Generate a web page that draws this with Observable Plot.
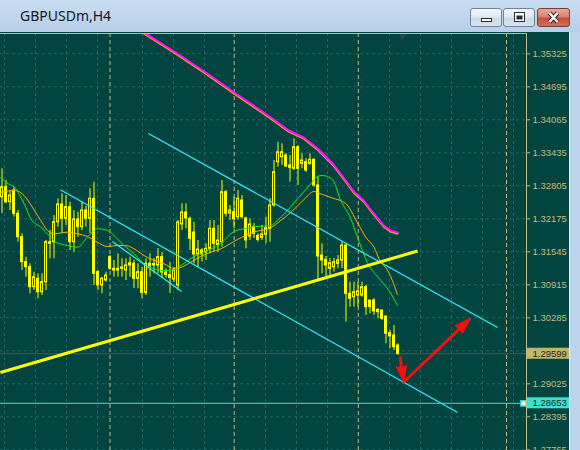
<!DOCTYPE html>
<html>
<head>
<meta charset="utf-8">
<script src="https://cdn.jsdelivr.net/npm/d3@7"></script>
<script src="https://cdn.jsdelivr.net/npm/@observablehq/plot@0.6"></script>
<style>
  html, body { margin: 0; padding: 0; background: #bcd3ec; }
  #win { position: relative; width: 580px; height: 450px; overflow: hidden; background: #bcd3ec; }
  #titlebar { position: absolute; left: 0; top: 0; width: 580px; height: 32px;
    background: linear-gradient(#c9dcf1, #b8cfe9); }
  #title { position: absolute; left: 20px; top: 4px; line-height: 24px;
    font-family: "Noto Sans", sans-serif; font-size: 14px; color: #15151f; }
  .btn { position: absolute; top: 8px; height: 19px; box-sizing: border-box;
    border: 1px solid #6f819b; border-radius: 3px;
    background: linear-gradient(#f4f7fb 0%, #e0e9f3 45%, #ccd9e8 55%, #d8e3ef 100%); }
  .btn svg { position: absolute; left: 0; top: 0; }
  #bmin { left: 470px; width: 32px; }
  #bmax { left: 503px; width: 32px; }
  #bclose { left: 537px; width: 33px; border-color: #70403a;
    background: linear-gradient(#e9a89a 0%, #d98272 45%, #c4513d 55%, #cf6e5a 100%); }
  #chart { position: absolute; left: 0; top: 32px; width: 570px; height: 418px; }
  #edge { position: absolute; left: 569px; top: 32px; width: 11px; height: 418px;
    background: linear-gradient(90deg, #e4edf7 0 1px, #bcd3ec 1px); }
</style>
</head>
<body>
<div id="win">
  <div id="titlebar">
    <div id="title">GBPUSDm,H4</div>
    <div class="btn" id="bmin"><svg width="30" height="17"><rect x="10.5" y="9.5" width="10" height="3" fill="#fff" stroke="#2b2b33"/></svg></div>
    <div class="btn" id="bmax"><svg width="30" height="17"><rect x="10.5" y="3.5" width="10" height="9" fill="#fff" stroke="#2b2b33"/><rect x="12.5" y="6.5" width="6" height="4" fill="#2b2b33"/></svg></div>
    <div class="btn" id="bclose"><svg width="31" height="17"><path d="M11.5,4 L19.5,13 M19.5,4 L11.5,13" stroke="#3a2222" stroke-width="4.5"/><path d="M11.5,4 L19.5,13 M19.5,4 L11.5,13" stroke="#fff" stroke-width="2.4"/></svg></div>
  </div>
  <div id="chart"></div>
  <div id="edge"></div>
</div>
<script>
// GBPUSD H4 candles, oldest first (bar index = position in the arrays)
const opens = [
  1.32587,1.32778,1.32492,1.32715,1.32271,1.31824,1.31347,1.31251,1.30869,1.31030,
  1.30774,1.30965,1.31698,1.31728,1.32110,1.32448,1.32175,1.32397,1.31728,1.32162,
  1.32015,1.32334,1.32175,1.32557,1.31156,1.30902,1.30997,1.31442,1.31221,1.31188,
  1.31221,1.31188,1.31284,1.31316,1.31030,1.31156,1.30759,1.31316,1.31284,1.31284,
  1.31442,1.31150,1.31102,1.31016,1.30902,1.32066,1.32295,1.32175,1.31914,1.31494,
  1.31570,1.31532,1.31602,1.31984,1.31675,1.31728,1.32683,1.32276,1.32301,1.32206,
  1.32524,1.32181,1.31837,1.32015,1.31847,1.31812,1.31870,1.31984,1.32429,1.33256,
  1.33351,1.33383,1.33193,1.33130,1.33542,1.33225,1.33256,1.33225,1.33301,1.32811,
  1.31474,1.31392,1.31221,1.31251,1.31316,1.31379,1.31665,1.30743,1.30678,1.30711,
  1.30711,1.30869,1.30615,1.30615,1.30438,1.30424,1.30310,1.29991,1.29947,1.29756];
const highs = [
  1.33130,1.32906,1.32715,1.32778,1.32334,1.31889,1.31442,1.31316,1.31156,1.31125,
  1.31125,1.31761,1.31952,1.32238,1.32557,1.32652,1.32620,1.32492,1.32334,1.32301,
  1.32492,1.32410,1.32748,1.32874,1.31188,1.31060,1.31156,1.31474,1.31379,1.31507,
  1.31411,1.31411,1.31442,1.31379,1.31316,1.31251,1.31411,1.31507,1.31417,1.31608,
  1.31532,1.31221,1.31341,1.31245,1.32143,1.32461,1.32461,1.32206,1.32110,1.31761,
  1.31602,1.31698,1.32143,1.32143,1.32047,1.32906,1.32715,1.32429,1.32587,1.32715,
  1.32620,1.32206,1.32175,1.32085,1.31889,1.32047,1.32206,1.32557,1.33288,1.33637,
  1.33607,1.33422,1.33383,1.33702,1.33574,1.33416,1.33326,1.33416,1.33320,1.32969,
  1.31698,1.31455,1.31417,1.31417,1.31474,1.31728,1.31698,1.30965,1.30965,1.30965,
  1.30965,1.30902,1.30615,1.30648,1.30457,1.30438,1.30310,1.30043,1.30138,1.29789];
const lows = [
  1.32271,1.32461,1.32334,1.32206,1.31728,1.31188,1.31060,1.30743,1.30806,1.30648,
  1.30711,1.30806,1.31411,1.31411,1.32015,1.31889,1.32047,1.31570,1.31537,1.31824,
  1.31952,1.32015,1.31889,1.30902,1.30806,1.30743,1.30965,1.31188,1.31060,1.31060,
  1.31060,1.30997,1.31060,1.30844,1.30839,1.30648,1.30711,1.31060,1.31125,1.31125,
  1.31035,1.31045,1.30749,1.30959,1.30806,1.31952,1.31984,1.31570,1.31316,1.31251,
  1.31347,1.31379,1.31507,1.31537,1.31537,1.31633,1.32206,1.32143,1.31984,1.32143,
  1.32175,1.31602,1.31761,1.31799,1.31728,1.31761,1.31698,1.31728,1.32397,1.33160,
  1.33193,1.33154,1.32874,1.33097,1.32811,1.33130,1.33059,1.33193,1.32778,1.30997,
  1.31125,1.31030,1.31060,1.31156,1.31221,1.31226,1.30201,1.30488,1.30488,1.30488,
  1.30678,1.30329,1.30361,1.30329,1.30266,1.30234,1.29789,1.29693,1.29661,1.29565];
const closes = [
  1.32778,1.32492,1.32620,1.32271,1.31824,1.31347,1.31251,1.30869,1.31060,1.30774,
  1.30965,1.31728,1.31728,1.32110,1.32448,1.32175,1.32397,1.31728,1.32162,1.32015,
  1.32334,1.32175,1.32557,1.31125,1.30902,1.31030,1.31093,1.31221,1.31188,1.31221,
  1.31245,1.31284,1.31327,1.31030,1.31156,1.30759,1.31316,1.31274,1.31312,1.31442,
  1.31150,1.31102,1.31045,1.31188,1.32104,1.32295,1.32181,1.31793,1.31494,1.31589,
  1.31494,1.31602,1.31984,1.31698,1.31761,1.32683,1.32271,1.32334,1.32162,1.32557,
  1.32206,1.31761,1.32066,1.31889,1.31770,1.31875,1.31996,1.32429,1.33065,1.33446,
  1.33446,1.33173,1.33149,1.33542,1.33130,1.33288,1.33097,1.33301,1.32811,1.31455,
  1.31379,1.31284,1.31327,1.31347,1.31379,1.31665,1.30743,1.30648,1.30774,1.30793,
  1.30869,1.30488,1.30488,1.30405,1.30392,1.30266,1.29980,1.29928,1.29724,1.29599];

// moving averages as [bar, price]
const fastMA = [[-0.33,1.32958],[0.93,1.32874],[3.43,1.32748],[4.68,1.32587],[5.93,1.32397],[7.18,1.32175],
  [9.68,1.32015],[12.18,1.31824],[13.43,1.31728],[16.35,1.31665],[18.85,1.31633],[21.35,1.31824],[23.85,1.31984],
  [26.35,1.31952],[28.43,1.31824],[30.5,1.31665],[33,1.31507],[35.5,1.31316],[38,1.31221],[40.5,1.31188],
  [42.18,1.31188],[45.1,1.31303],[47.18,1.31417],[49.68,1.31513],[54.68,1.31703],[58,1.31933],[61.35,1.31996],
  [63.43,1.32028],[67.18,1.32047],[68.85,1.32143],[70.93,1.32301],[74.25,1.32587],[77.18,1.32843],[78.85,1.32983],
  [80.1,1.33002],[82.6,1.32925],[84.68,1.32524],[87.18,1.32181],[88.85,1.31824],[91.35,1.31341],[94.68,1.30997],
  [96.75,1.30806],[98.85,1.30520]];
const slowMA = [[-0.33,1.32683],[3.43,1.32715],[5.5,1.32620],[7.6,1.32397],[9.68,1.32143],[11.35,1.31952],
  [13,1.31889],[16.35,1.31919],[18.85,1.31889],[21.35,1.31837],[23.85,1.31728],[26.35,1.31646],[28.85,1.31665],
  [30.93,1.31665],[33,1.31602],[35.5,1.31474],[38,1.31379],[40.5,1.31316],[43,1.31226],[44.68,1.31245],
  [47.18,1.31347],[49.68,1.31455],[52.18,1.31537],[54.68,1.31602],[58.85,1.31780],[63,1.31923],[67.18,1.32003],
  [69.68,1.32143],[72.18,1.32295],[75.5,1.32543],[78,1.32696],[80.1,1.32639],[82.6,1.32572],[85.93,1.32467],
  [88.85,1.32104],[90.93,1.31824],[93,1.31633],[94.68,1.31347],[95.93,1.31245],[97.6,1.30997],[98.85,1.30730]];
const longMA = [[34.6,1.35774],[35.93,1.35712],[43.43,1.35350],[50.93,1.34968],[58.43,1.34567],[64.68,1.34243],
  [67.93,1.34071],[71.68,1.33861],[75.43,1.33727],[78.93,1.33517],[82.68,1.33231],[85.93,1.32906],[87.93,1.32696],
  [90.43,1.32524],[92.93,1.32276],[95.43,1.32047],[97.18,1.31952],[98.93,1.31914]];

// drawn objects: channel lines, support line, arrows, horizontal level
const channels = [
  {x1: 36.6, y1: 1.33803, x2: 123.9, y2: 1.30100},
  {x1: 14.6, y1: 1.32729, x2: 113.9, y2: 1.28477},
  {x1: 27.6, y1: 1.31742, x2: 44.9, y2: 1.30787}];
const support = [{x1: -0.4, y1: 1.29241, x2: 103.9, y2: 1.31560}];
const arrows = [
  {x1: 99.5, y1: 1.29546, x2: 100.45, y2: 1.29060},
  {x1: 100.45, y1: 1.29060, x2: 117.1, y2: 1.30272}];
const levelPrice = 1.28653;
const levelHandleBar = 130.4;
const bidPrice = 1.29599;

// axis ticks and grid
const priceTicks = [1.27765,1.28395,1.29025,1.29655,1.30285,1.30915,1.31545,1.32175,1.32805,1.33435,1.34065,1.34695,1.35325];
// the 1.29655 label sits under the bid tag, so it is left out of the labels
const labelTicks = priceTicks.filter(t => Math.abs(t - bidPrice) > 0.001);
const gridBars = [0.625,8.375,16.125,23.875,35.125,42.875,50.625,65.875,73.625,81.375,96.875,104.625,112.375,120.125,127.875];
const periodBars = [27, 58.05, 89.08, 126.125];
const shiftBar = 100.1;

const bg = "#02443f";
const gridColor = "#216862";
const beige = "#c9bb80";
const candleColor = "#ffff00";
const bearFill = "#fffff0";
const cyan = "#2ff0ff";
const turquoise = "#40e0d0";
const red = "#f21010";

const xDomain = [-0.375, 131.125], xRange = [0, 526];
const yDomain = [1.27765, 1.35325], yRange = [417.3, 21.3];
const xs = d3.scaleLinear(xDomain, xRange), ys = d3.scaleLinear(yDomain, yRange);

const candles = opens.map((o, i) => ({i, open: o, high: highs[i], low: lows[i], close: closes[i]}));
const bulls = candles.filter(d => d.close >= d.open);
const bears = candles.filter(d => d.close < d.open);

// arrow heads: screen-space direction for the spikes, shortened shafts
const headLen = 16;
const heads = arrows.map(a => {
  const dx = xs(a.x2) - xs(a.x1), dy = ys(a.y2) - ys(a.y1);
  const len = Math.hypot(dx, dy), ux = dx / len, uy = dy / len;
  return {
    x: a.x2, y: a.y2,
    rotate: Math.atan2(dx, -dy) * 180 / Math.PI,
    sx1: a.x1, sy1: a.y1,
    sx2: xs.invert(xs(a.x2) - ux * headLen * 0.6),
    sy2: ys.invert(ys(a.y2) - uy * headLen * 0.6)
  };
});

const priceTags = [
  {price: bidPrice, fill: "#c2b66c", text: "#1f1f10"},
  {price: levelPrice, fill: turquoise, text: "#0a2a2a"}];
const tagHalf = 0.00105;

const chart = Plot.plot({
  width: 570,
  height: 418,
  marginTop: 1, marginBottom: 0, marginLeft: 0, marginRight: 44,
  style: {background: bg, color: beige, fontFamily: '"Liberation Sans", Arial, sans-serif', fontSize: "9.5px", overflow: "visible"},
  x: {domain: xDomain, range: xRange, axis: null},
  y: {domain: yDomain, range: yRange},
  marks: [
    Plot.gridY(priceTicks, {stroke: gridColor, strokeOpacity: 1, strokeDasharray: "3,3"}),
    Plot.ruleX(gridBars, {stroke: gridColor, strokeDasharray: "3,3"}),
    Plot.ruleX(periodBars, {stroke: beige, strokeDasharray: "4,3"}),
    Plot.ruleY([bidPrice], {stroke: "#3f5f5b"}),
    // candles
    Plot.ruleX(candles, {x: "i", y1: "low", y2: "high", stroke: candleColor}),
    Plot.rect(bulls, {x1: d => d.i - 0.25, x2: d => d.i + 0.25, y1: "open", y2: "close", fill: bg, stroke: candleColor}),
    Plot.rect(bears, {x1: d => d.i - 0.25, x2: d => d.i + 0.25, y1: "open", y2: "close", fill: bearFill, stroke: candleColor}),
    // moving averages
    Plot.line(longMA, {x: d => d[0], y: d => d[1], stroke: "#f5a020", strokeWidth: 2, dy: 1.2, clip: true}),
    Plot.line(longMA, {x: d => d[0], y: d => d[1], stroke: "#ff10ff", strokeWidth: 2, clip: true}),
    Plot.line(slowMA, {x: d => d[0], y: d => d[1], stroke: "#ffae00", strokeWidth: 1, curve: "monotone-x", clip: true}),
    Plot.line(fastMA, {x: d => d[0], y: d => d[1], stroke: "#10f010", strokeWidth: 1, curve: "monotone-x", clip: true}),
    // drawn objects
    Plot.link(channels, {x1: "x1", y1: "y1", x2: "x2", y2: "y2", stroke: cyan, strokeWidth: 1.2}),
    Plot.link(support, {x1: "x1", y1: "y1", x2: "x2", y2: "y2", stroke: "#ffff00", strokeWidth: 3}),
    Plot.ruleY([levelPrice], {stroke: turquoise}),
    Plot.dot([levelHandleBar], {x: d => d, y: () => levelPrice, symbol: "square", r: 3, fill: "#ffffff", stroke: turquoise}),
    Plot.link(heads, {x1: "sx1", y1: "sy1", x2: "sx2", y2: "sy2", stroke: red, strokeWidth: 3}),
    Plot.vector(heads, {x: "x", y: "y", rotate: "rotate", length: headLen, anchor: "end", shape: "spike", r: 5, fill: red, stroke: red}),
    Plot.dot([shiftBar], {x: d => d, frameAnchor: "top", dy: 2, symbol: "triangle", rotate: 180, r: 3, fill: "#2f4545"}),
    // frame (top and right edges)
    Plot.frame({anchor: "top", stroke: beige}),
    Plot.frame({anchor: "right", stroke: beige}),
    Plot.axisY(labelTicks, {anchor: "right", tickSize: 3, tickPadding: 3, tickFormat: d => d.toFixed(5), label: null, stroke: beige, fill: beige}),
    // price tags in the scale gutter
    Plot.rect(priceTags, {x1: 131.375, x2: 141.875, y1: d => d.price - tagHalf, y2: d => d.price + tagHalf, fill: "fill"}),
    Plot.text(priceTags, {frameAnchor: "right", dx: 6, y: "price", text: d => d.price.toFixed(5), textAnchor: "start", fill: "text"})
  ]
});
document.getElementById("chart").append(chart);
</script>
</body>
</html>
